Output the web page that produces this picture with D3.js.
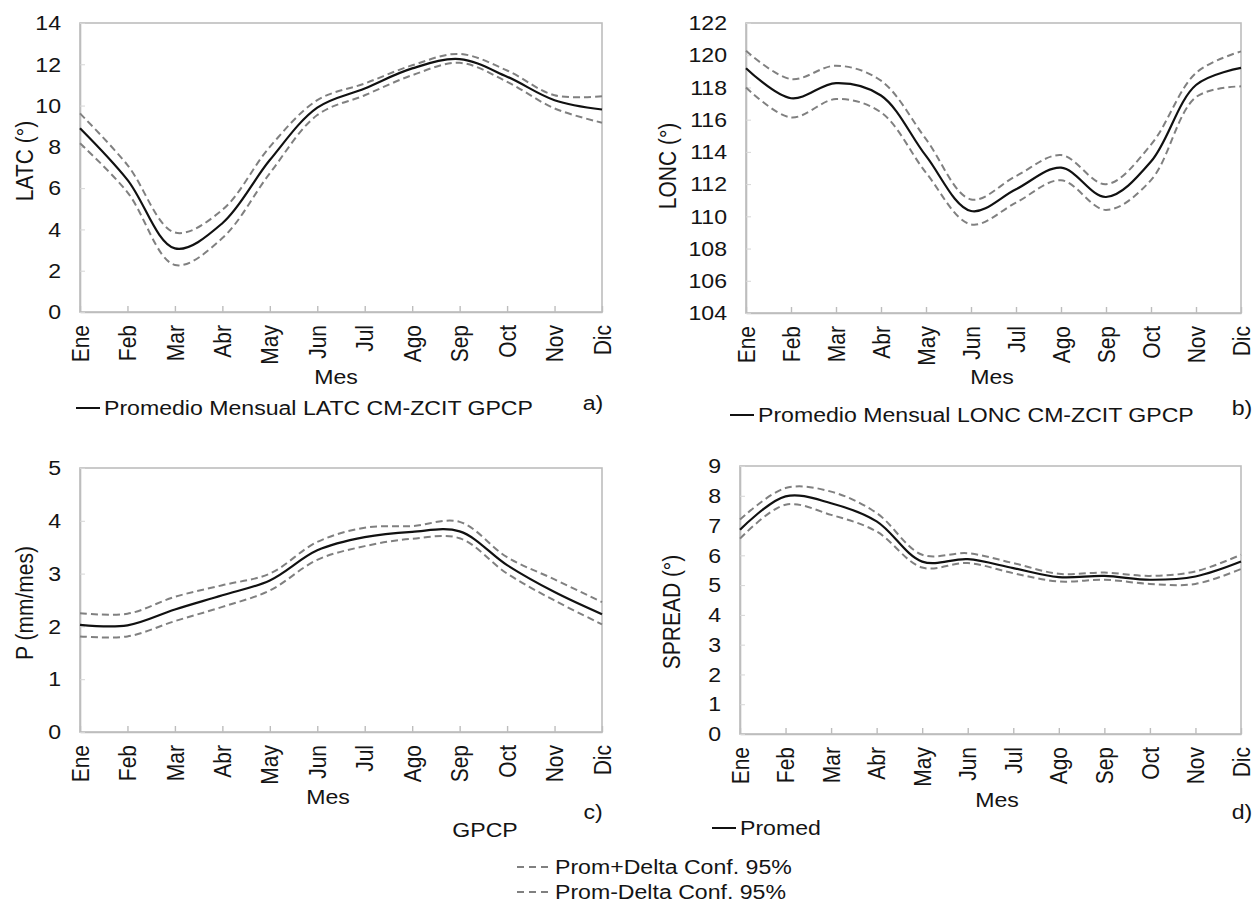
<!DOCTYPE html>
<html><head><meta charset="utf-8">
<script src="https://cdn.jsdelivr.net/npm/d3@7"></script>
<style>
body{margin:0;background:#fff;}
text{font-family:"Liberation Sans",Arial,sans-serif;fill:#141414;}
</style></head>
<body>
<svg id="chart" width="1256" height="907"></svg>
<script>
const months = ["Ene","Feb","Mar","Abr","May","Jun","Jul","Ago","Sep","Oct","Nov","Dic"];

const latcMean  = [8.9, 6.4, 3.08, 4.3, 7.36, 9.9, 10.83, 11.8, 12.25, 11.4, 10.26, 9.81];
const latcUpper = [9.62, 7.12, 3.85, 4.95, 8.0, 10.26, 11.07, 11.95, 12.5, 11.7, 10.5, 10.45];
const latcLower = [8.17, 5.8, 2.28, 3.58, 6.72, 9.54, 10.5, 11.47, 12.07, 11.15, 9.86, 9.17];

const loncMean  = [119.19, 117.33, 118.27, 117.5, 113.75, 110.33, 111.68, 113.02, 111.2, 113.4, 118.15, 119.21];
const loncUpper = [120.27, 118.52, 119.35, 118.42, 114.79, 111.05, 112.5, 113.8, 111.99, 114.45, 118.9, 120.24];
const loncLower = [118.0, 116.14, 117.28, 116.45, 112.71, 109.5, 110.85, 112.24, 110.4, 112.25, 117.4, 118.07];

const pMean  = [2.03, 2.02, 2.32, 2.59, 2.87, 3.44, 3.69, 3.79, 3.80, 3.16, 2.65, 2.23];
const pUpper = [2.25, 2.24, 2.56, 2.78, 3.0, 3.6, 3.87, 3.9, 3.98, 3.31, 2.89, 2.46];
const pLower = [1.81, 1.81, 2.10, 2.37, 2.68, 3.26, 3.52, 3.66, 3.67, 3.0, 2.49, 2.04];

const spreadMean  = [6.86, 7.98, 7.75, 7.14, 5.79, 5.87, 5.57, 5.27, 5.31, 5.18, 5.29, 5.79];
const spreadUpper = [7.2, 8.26, 8.14, 7.42, 6.02, 6.07, 5.74, 5.38, 5.42, 5.31, 5.46, 6.02];
const spreadLower = [6.56, 7.7, 7.36, 6.8, 5.59, 5.74, 5.4, 5.12, 5.18, 5.04, 5.04, 5.54];

const latcTicks = [0,2,4,6,8,10,12,14];
const loncTicks = [104,106,108,110,112,114,116,118,120,122];
const pTicks = [0,1,2,3,4,5];
const spreadTicks = [0,1,2,3,4,5,6,7,8,9];

const svg = d3.select("#chart");
const FS = 21;     // font size (vertical)
const SX = 1.1;    // horizontal stretch of the source image
const FRAME = "#bdbdbd";
const DASH = "#808080";

function htext(x, y, str, anchor){
  return svg.append("text").attr("transform", `translate(${x},${y}) scale(${SX},1)`)
    .attr("text-anchor", anchor || "start").attr("dy","0.35em")
    .style("font-size", FS+"px").text(str);
}

const panels = [
  {x0:80, x1:602, y0:23, y1:312, dom:[0,14], ticks:latcTicks, ylab:"LATC (°)", ylx:25, yly:161,
   mean:latcMean, up:latcUpper, lo:latcLower, mesX:336, mesY:377, tag:"a)", tagX:593, tagY:403},
  {x0:746, x1:1241, y0:23, y1:313, dom:[104,122], ticks:loncTicks, ylab:"LONC (°)", ylx:668, yly:166,
   mean:loncMean, up:loncUpper, lo:loncLower, mesX:992, mesY:377, tag:"b)", tagX:1242, tagY:408},
  {x0:80, x1:602, y0:468, y1:732, dom:[0,5], ticks:pTicks, ylab:"P (mm/mes)", ylx:25, yly:603,
   mean:pMean, up:pUpper, lo:pLower, mesX:328, mesY:797, tag:"c)", tagX:593, tagY:812},
  {x0:740, x1:1241, y0:466, y1:734, dom:[0,9], ticks:spreadTicks, ylab:"SPREAD (°)", ylx:672, yly:612,
   mean:spreadMean, up:spreadUpper, lo:spreadLower, mesX:997, mesY:800, tag:"d)", tagX:1242, tagY:812}
];

panels.forEach(p => {
  const x = d3.scalePoint().domain(months).range([p.x0, p.x1]);
  const y = d3.scaleLinear().domain(p.dom).range([p.y1, p.y0]);
  const g = svg.append("g");
  g.append("rect").attr("x", p.x0).attr("y", p.y0).attr("width", p.x1-p.x0).attr("height", p.y1-p.y0)
    .attr("fill","none").attr("stroke",FRAME).attr("stroke-width",1.6);
  const xa = g.append("g").attr("transform", `translate(0,${p.y1})`)
    .call(d3.axisBottom(x).tickSize(-6).tickSizeOuter(0).tickPadding(10));
  xa.select(".domain").attr("stroke",FRAME).attr("stroke-width",1.6);
  xa.selectAll(".tick line").attr("stroke",FRAME).attr("stroke-width",1.4);
  xa.selectAll(".tick text")
    .attr("transform",`rotate(-90) scale(1,${SX})`)
    .attr("x", -13).attr("y", 0).attr("dy","0.35em")
    .attr("text-anchor","end")
    .style("font-size", FS+"px").style("font-family","Liberation Sans, Arial, sans-serif").attr("fill","#141414");
  const ya = g.append("g").attr("transform", `translate(${p.x0},0)`)
    .call(d3.axisLeft(y).tickValues(p.ticks).tickFormat(d3.format("d")).tickSize(-5).tickSizeOuter(0).tickPadding(0));
  ya.select(".domain").attr("stroke",FRAME).attr("stroke-width",1.6);
  ya.selectAll(".tick line").attr("stroke","#d6d6d6");
  ya.selectAll(".tick text").attr("x", -19/SX).attr("transform",`scale(${SX},1)`)
    .style("font-size", FS+"px")
    .style("font-family","Liberation Sans, Arial, sans-serif").attr("fill","#141414");
  g.append("text").attr("transform", `translate(${p.ylx},${p.yly}) rotate(-90) scale(1,${SX})`)
    .attr("text-anchor","middle").attr("dy","0.35em").style("font-size", FS+"px").text(p.ylab);
  htext(p.mesX, p.mesY, "Mes", "middle");
  htext(p.tagX, p.tagY, p.tag, "middle");

  const line = d3.line().x((d,i)=>x(months[i])).y(d=>y(d)).curve(d3.curveCatmullRom.alpha(0.5));
  [p.up, p.lo].forEach(s => {
    g.append("path").attr("d", line(s)).attr("fill","none").attr("stroke",DASH)
      .attr("stroke-width",2).attr("stroke-dasharray","7,4");
  });
  g.append("path").attr("d", line(p.mean)).attr("fill","none").attr("stroke","#111")
    .attr("stroke-width",2.2);
});

function solidLegend(x, y, label){
  svg.append("line").attr("x1", x).attr("x2", x+24).attr("y1", y).attr("y2", y)
    .attr("stroke","#111").attr("stroke-width",2);
  htext(x+28, y, label);
}
function dashLegend(x, y, label){
  svg.append("line").attr("x1", x).attr("x2", x+35).attr("y1", y).attr("y2", y)
    .attr("stroke",DASH).attr("stroke-width",1.8).attr("stroke-dasharray","7,5");
  htext(x+38, y, label);
}
solidLegend(76, 408, "Promedio Mensual LATC CM-ZCIT GPCP");
solidLegend(730, 415, "Promedio Mensual LONC CM-ZCIT GPCP");
htext(485, 830, "GPCP", "middle");
solidLegend(712, 828, "Promed");
dashLegend(517, 867, "Prom+Delta Conf. 95%");
dashLegend(517, 892, "Prom-Delta Conf. 95%");
</script>
</body></html>
